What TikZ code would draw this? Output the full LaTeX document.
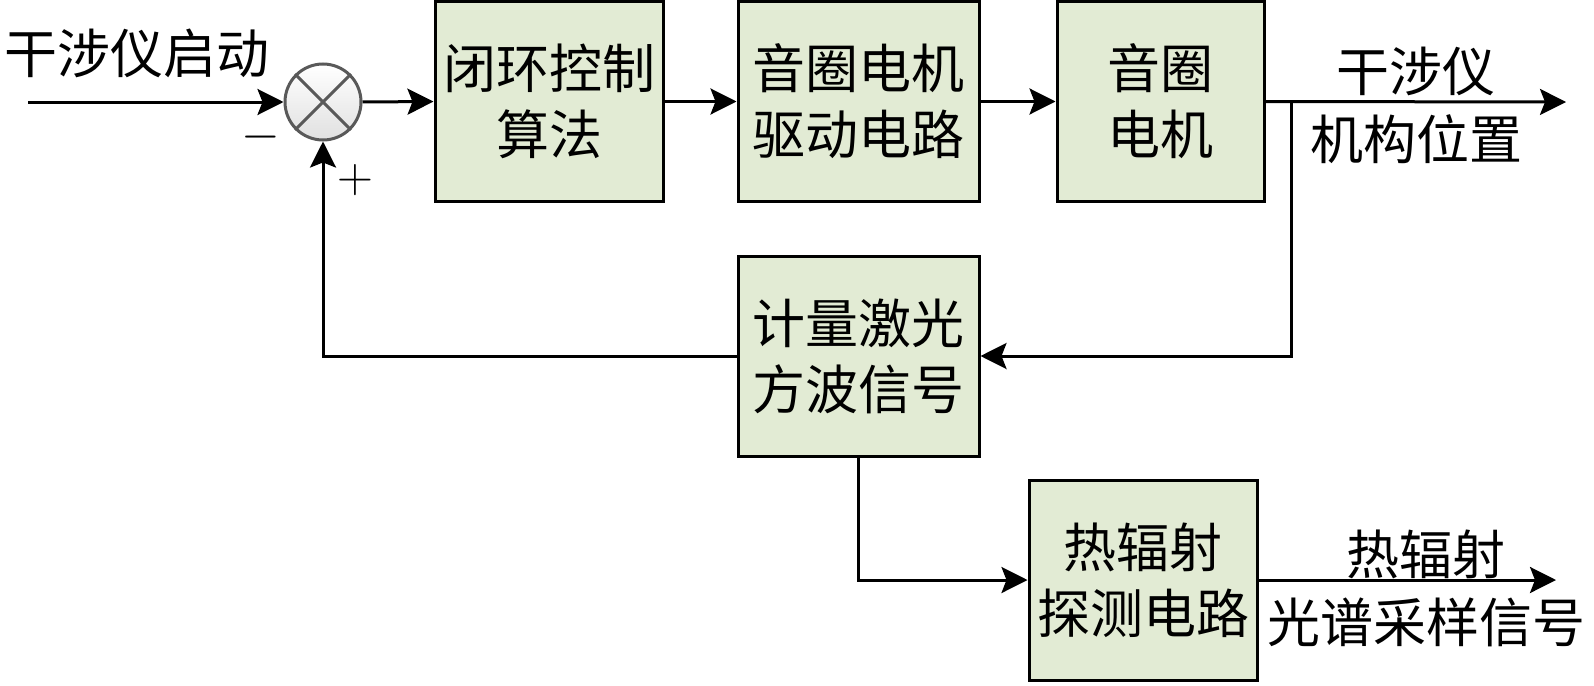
\documentclass[tikz,border=0pt]{standalone}
\usepackage{fontspec}
\newfontfamily\cjk{Noto Sans CJK SC}
\usetikzlibrary{arrows.meta}
\definecolor{boxgreen}{RGB}{226,235,212}
\begin{document}
\begin{tikzpicture}[x=0.5pt,y=-0.5pt,
  font=\cjk\fontsize{26.5}{33}\selectfont,
  block/.style={draw=black,line width=1.5pt,fill=boxgreen,align=center,minimum height=100pt,inner sep=0pt},
  arr/.style={-{Stealth[length=13pt,width=13pt,inset=2.5pt]},line width=1.5pt},
  lbl/.style={align=center,inner sep=0pt}]
\useasboundingbox (0,0) rectangle (1594,685);
% blocks
\node[block,minimum width=114pt] (ctrl) at (549,101.5) {闭环控制\\算法};
\node[block,minimum width=120.5pt] (drv) at (858.5,101.5) {音圈电机\\驱动电路};
\node[block,minimum width=103.5pt] (motor) at (1160.5,101.5) {音圈\\电机};
\node[block,minimum width=120.5pt] (laser) at (858.5,356) {计量激光\\方波信号};
\node[block,minimum width=114pt] (det) at (1143,580) {热辐射\\探测电路};
% summing point
\node[circle,draw=black!65,line width=1.5pt,top color=white,bottom color=black!12,minimum size=38pt,inner sep=0pt] (sum) at (323,102) {};
\draw[black!65,line width=1.5pt] (sum.north west) -- (sum.south east);
\draw[black!65,line width=1.5pt] (sum.north east) -- (sum.south west);
% free ends
\coordinate (in) at (28,102);
\coordinate (br) at (1291,102);
\coordinate (out) at (1566,102);
\coordinate (out2) at (1556,580);
% connectors
\draw[arr] (in) -- (sum.west);
\draw[arr] (sum.east) -- (ctrl.west);
\draw[arr] (ctrl.east) -- (drv.west);
\draw[arr] (drv.east) -- (motor.west);
\draw[arr] (motor.east) -- (out);
\draw[arr] (br) |- (laser.east);
\draw[arr] (laser.west) -| (sum.south);
\draw[arr] (laser.south) |- (det.west);
\draw[arr] (det.east) -- (out2);
% labels
\node[lbl] (start) at (137,53) {干涉仪启动};
\node[lbl] (minus) at (261,137) {$-$};
\node[lbl] (plus) at (355,180) {$+$};
\node[lbl] (pos1) at (1416,71) {干涉仪};
\node[lbl] (pos2) at (1416,139) {机构位置};
\node[lbl] (spec1) at (1426,554) {热辐射};
\node[lbl] (spec2) at (1426,622) {光谱采样信号};
\end{tikzpicture}
\end{document}
